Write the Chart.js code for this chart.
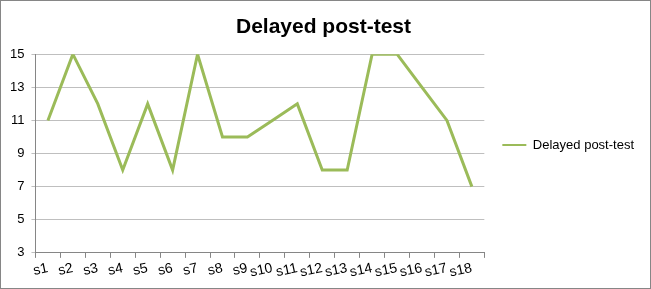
<!DOCTYPE html>
<html>
<head>
<meta charset="utf-8">
<script src="https://cdn.jsdelivr.net/npm/chart.js@4"></script>
<style>
  html, body { margin: 0; padding: 0; background: #fff; }
  #wrap { position: relative; width: 649px; height: 287px; border: 1px solid #868686; }
</style>
</head>
<body>
<div id="wrap"><canvas id="postChart"></canvas></div>
<script>
const students = ['s1','s2','s3','s4','s5','s6','s7','s8','s9','s10','s11','s12','s13','s14','s15','s16','s17','s18'];
const delayedScores = [11, 15, 12, 8, 12, 8, 15, 10, 10, 11, 12, 8, 8, 15, 15, 13, 11, 7];
const seriesName = 'Delayed post-test';

const ctx = document.getElementById('postChart').getContext('2d');

new Chart(ctx, {
    type: 'line',
    data: {
        labels: students,
        datasets: [{
            label: seriesName,
            data: delayedScores,
            borderColor: '#9BBB59',
            backgroundColor: '#9BBB59',
            borderWidth: 3,
            pointRadius: 0,
            tension: 0,
            fill: false
        }]
    },
    options: {
        responsive: true,
        maintainAspectRatio: false,
        animation: false,
        layout: { padding: { left: 2, right: 6, top: 6, bottom: 5 } },
        scales: {
            x: {
                offset: true,
                grid: { drawOnChartArea: false, offset: true, tickLength: 5, color: '#868686' },
                border: { color: '#868686' },
                ticks: { color: '#000', font: { family: 'Liberation Sans', size: 14 }, minRotation: 12, maxRotation: 12, autoSkip: false, padding: 2 }
            },
            y: {
                min: 3,
                max: 15,
                ticks: { stepSize: 2, color: '#000', font: { family: 'Liberation Sans', size: 13 }, padding: 7 },
                grid: { color: '#bfbfbf', tickLength: 4 },
                border: { color: '#868686' }
            }
        },
        plugins: {
            title: {
                display: true,
                text: seriesName,
                color: '#000',
                font: { family: 'Liberation Sans', size: 21, weight: 'bold' },
                padding: { top: 8, bottom: 14 }
            },
            legend: {
                position: 'right',
                labels: {
                    boxWidth: 24,
                    boxHeight: 2,
                    color: '#000',
                    font: { family: 'Liberation Sans', size: 13 },
                    padding: 18,
                    generateLabels: (chart) => Chart.defaults.plugins.legend.labels.generateLabels(chart).map(item => ({ ...item, lineWidth: 0 }))
                }
            },
            tooltip: { enabled: false }
        }
    }
});
</script>
</body>
</html>
